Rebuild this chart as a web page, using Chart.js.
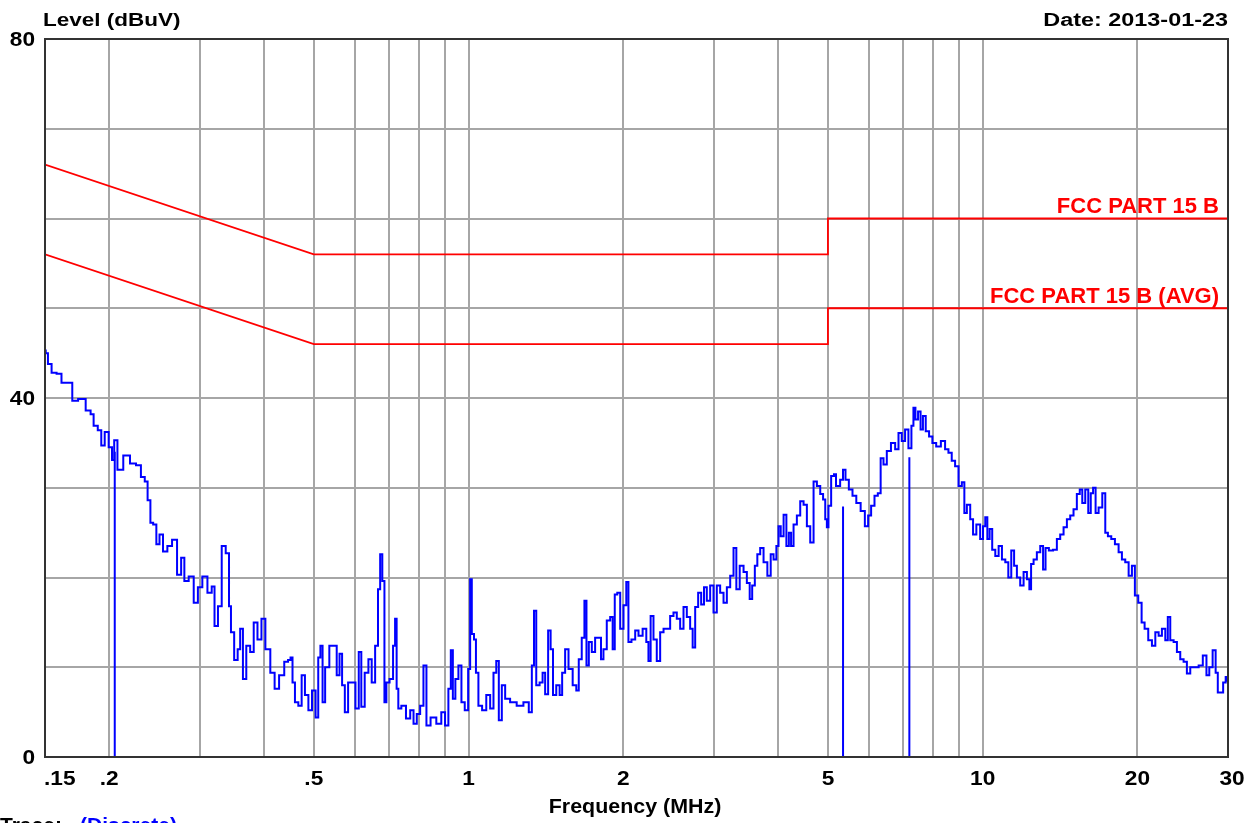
<!DOCTYPE html>
<html>
<head>
<meta charset="utf-8">
<script src="https://cdn.jsdelivr.net/npm/chart.js@4.4.1/dist/chart.umd.min.js"></script>
<style>
  html, body { margin: 0; padding: 0; background: #fff; }
  canvas { display: block; }
</style>
</head>
<body>
<canvas id="emiChart" width="1260" height="823"></canvas>
<script>
// Conducted emission scan (MHz / dBuV)
var traceFreq = [
  0.150, 0.151, 0.153, 0.156, 0.160, 0.163, 0.168, 0.171, 0.177, 0.183, 0.185, 0.188, 0.192, 0.194, 0.198,
  0.201, 0.204, 0.205, 0.210, 0.216, 0.223, 0.228, 0.233, 0.236, 0.239, 0.242, 0.245, 0.249, 0.252, 0.257,
  0.262, 0.268, 0.274, 0.278, 0.282, 0.289, 0.295, 0.300, 0.307, 0.314, 0.319, 0.322, 0.329, 0.333, 0.341,
  0.343, 0.347, 0.353, 0.358, 0.361, 0.367, 0.372, 0.380, 0.384, 0.393, 0.398, 0.407, 0.416, 0.423, 0.433,
  0.443, 0.448, 0.453, 0.456, 0.463, 0.470, 0.477, 0.484, 0.492, 0.500, 0.508, 0.512, 0.518, 0.522, 0.530,
  0.542, 0.550, 0.558, 0.564, 0.571, 0.578, 0.588, 0.597, 0.608, 0.615, 0.622, 0.634, 0.643, 0.653, 0.663,
  0.670, 0.676, 0.683, 0.689, 0.695, 0.709, 0.717, 0.722, 0.727, 0.733, 0.747, 0.764, 0.776, 0.787, 0.799,
  0.811, 0.823, 0.833, 0.854, 0.877, 0.893, 0.907, 0.920, 0.927, 0.937, 0.948, 0.963, 0.974, 0.992, 1.004,
  1.010, 1.019, 1.030, 1.037, 1.053, 1.072, 1.093, 1.110, 1.126, 1.138, 1.152, 1.169, 1.187, 1.222, 1.259,
  1.298, 1.321, 1.334, 1.347, 1.361, 1.388, 1.398, 1.420, 1.436, 1.452, 1.467, 1.495, 1.512, 1.529, 1.553,
  1.576, 1.612, 1.628, 1.648, 1.672, 1.688, 1.703, 1.724, 1.749, 1.776, 1.803, 1.816, 1.843, 1.871, 1.900,
  1.913, 1.936, 1.957, 1.987, 2.016, 2.037, 2.055, 2.093, 2.125, 2.156, 2.205, 2.228, 2.248, 2.272, 2.306,
  2.340, 2.377, 2.412, 2.448, 2.485, 2.522, 2.560, 2.599, 2.638, 2.677, 2.718, 2.738, 2.780, 2.812, 2.856,
  2.885, 2.928, 2.973, 3.017, 3.062, 3.109, 3.156, 3.203, 3.252, 3.300, 3.335, 3.401, 3.452, 3.503, 3.541,
  3.582, 3.626, 3.663, 3.720, 3.775, 3.849, 3.890, 3.948, 3.990, 4.025, 4.069, 4.130, 4.172, 4.223, 4.255,
  4.318, 4.383, 4.450, 4.516, 4.584, 4.654, 4.723, 4.794, 4.867, 4.918, 4.962, 4.990, 5.034, 5.111, 5.164,
  5.204, 5.241, 5.321, 5.376, 5.442, 5.540, 5.623, 5.732, 5.846, 5.952, 6.020, 6.114, 6.205, 6.298, 6.365,
  6.460, 6.557, 6.705, 6.808, 6.909, 7.010, 7.117, 7.223, 7.311, 7.354, 7.443, 7.530, 7.612, 7.691, 7.805,
  7.925, 8.040, 8.199, 8.385, 8.514, 8.641, 8.769, 8.905, 9.040, 9.176, 9.246, 9.384, 9.528, 9.626, 9.814,
  9.960, 10.07, 10.16, 10.26, 10.37, 10.50, 10.66, 10.82, 10.98, 11.15, 11.28, 11.45, 11.57, 11.74, 11.92,
  12.10, 12.28, 12.37, 12.47, 12.65, 12.84, 13.04, 13.17, 13.33, 13.57, 13.84, 14.04, 14.26, 14.47, 14.69,
  14.91, 15.13, 15.36, 15.53, 15.71, 15.95, 16.14, 16.31, 16.48, 16.68, 16.93, 17.24, 17.39, 17.65, 17.92,
  18.24, 18.52, 18.79, 19.08, 19.37, 19.65, 19.89, 20.25, 20.50, 20.80, 21.18, 21.50, 21.83, 22.15, 22.48,
  22.83, 22.99, 23.34, 23.69, 24.04, 24.41, 24.77, 25.14, 25.53, 26.11, 26.50, 27.10, 27.38, 27.80, 28.21,
  28.56, 28.76, 29.20, 29.51, 29.87, 30.00
];
var traceLevel = [
  45.3, 45.0, 43.8, 42.8, 42.7, 41.7, 41.7, 39.7, 39.9, 38.6, 38.2, 36.9, 36.4, 34.7, 36.2,
  34.5, 33.1, 35.3, 32.0, 33.6, 32.7, 32.5, 31.2, 30.7, 28.6, 26.1, 25.9, 23.7, 24.8, 22.9,
  23.5, 24.2, 20.3, 22.2, 19.6, 20.1, 17.2, 18.9, 20.1, 18.3, 19.0, 14.6, 16.8, 23.5, 22.7,
  16.8, 13.9, 10.8, 12.0, 14.3, 8.7, 12.4, 11.7, 15.0, 13.1, 15.4, 12.0, 9.4, 7.6, 9.1,
  10.6, 10.8, 11.1, 8.3, 6.1, 5.7, 9.1, 6.9, 5.2, 7.4, 4.4, 11.1, 12.4, 6.1, 10.0,
  12.4, 12.4, 9.1, 11.5, 8.0, 5.0, 8.3, 8.3, 5.4, 11.7, 5.6, 9.4, 10.9, 8.3, 12.4,
  18.7, 22.6, 19.6, 6.1, 8.3, 8.7, 12.4, 15.4, 7.6, 5.4, 5.7, 4.3, 5.2, 3.7, 4.8,
  5.7, 10.2, 3.5, 4.4, 3.7, 5.0, 3.5, 7.6, 11.9, 6.5, 8.7, 10.2, 6.1, 5.2, 9.8,
  19.8, 13.7, 13.1, 9.4, 5.7, 5.2, 6.9, 5.4, 9.4, 10.7, 4.1, 8.0, 6.5, 6.1, 5.7,
  6.1, 5.0, 10.2, 16.3, 8.0, 8.3, 9.4, 7.0, 14.1, 12.0, 6.9, 8.0, 6.9, 9.4, 12.0,
  9.8, 8.0, 7.4, 10.9, 13.3, 17.4, 10.2, 12.8, 11.7, 13.3, 13.3, 10.9, 12.0, 15.2, 15.6,
  12.0, 18.1, 18.3, 14.3, 16.9, 19.5, 12.8, 13.1, 14.1, 13.5, 14.3, 12.8, 10.7, 15.7, 13.1,
  10.7, 13.9, 14.3, 14.3, 15.7, 16.1, 15.4, 14.3, 16.7, 15.6, 14.3, 12.2, 16.7, 18.3, 17.0,
  18.9, 17.4, 19.1, 16.1, 19.1, 18.3, 17.2, 18.9, 20.2, 23.3, 18.7, 21.3, 20.6, 19.4, 17.6,
  19.1, 21.3, 22.6, 23.3, 21.7, 20.2, 22.6, 22.0, 23.5, 25.7, 24.6, 27.0, 23.5, 25.0, 23.5,
  25.9, 26.9, 28.5, 28.1, 25.7, 23.9, 30.7, 30.2, 29.3, 28.7, 26.5, 25.6, 28.0, 31.3, 31.5,
  30.2, 30.2, 30.9, 32.0, 30.9, 29.8, 29.1, 28.3, 27.4, 25.7, 26.9, 28.0, 29.1, 29.4, 33.3,
  32.6, 34.1, 35.0, 34.3, 36.1, 35.2, 36.5, 34.4, 36.9, 38.9, 37.6, 38.5, 36.5, 38.0, 36.3,
  35.7, 35.0, 34.6, 35.2, 34.3, 33.9, 33.0, 32.4, 30.2, 30.6, 27.2, 28.1, 26.5, 24.8, 25.9,
  24.3, 25.7, 26.7, 24.3, 25.4, 23.1, 22.4, 23.5, 22.0, 21.7, 20.0, 23.0, 21.3, 20.0, 19.1,
  20.6, 19.8, 18.7, 21.5, 22.0, 22.8, 23.5, 20.9, 23.3, 23.0, 23.1, 24.3, 24.8, 25.6, 26.5,
  26.9, 27.6, 29.3, 29.8, 28.3, 29.8, 27.2, 29.4, 30.0, 27.2, 27.8, 29.4, 25.0, 24.6, 24.3,
  23.7, 22.8, 22.0, 21.7, 20.2, 21.3, 18.0, 17.2, 15.0, 14.3, 13.0, 12.4, 13.9, 13.5, 14.3,
  13.0, 15.6, 13.0, 12.8, 11.7, 10.9, 10.6, 9.3, 10.0, 10.0, 10.2, 11.3, 9.1, 10.0, 11.9,
  9.4, 7.2, 7.2, 8.3, 8.9, 8.5
];

// FCC Part 15 class B limits
var limitFreq = [0.15, 0.5, 5, 5, 30];
var qpLimit = [66, 56, 56, 60, 60];
var avgLimit = [56, 46, 46, 50, 50];

// discrete readings
var markerFreq = [0.205, 5.35, 7.2];
var markerLevel = [34.0, 27.9, 33.4];

var gridFreq = [0.15, 0.2, 0.3, 0.4, 0.5, 0.6, 0.7, 0.8, 0.9, 1, 2, 3, 4, 5, 6, 7, 8, 9, 10, 20, 30];
var xTickValues = [0.15, 0.2, 0.5, 1, 2, 5, 10, 20, 30];
var xTickLabels = ['.15', '.2', '.5', '1', '2', '5', '10', '20', '30'];
var yTickValues = [0, 40, 80];

function toPoints(xs, ys) {
    return xs.map(function (f, i) { return { x: f, y: ys[i] }; });
}

var markerPoints = [];
markerFreq.forEach(function (f, i) {
    markerPoints.push({ x: f, y: 0 }, { x: f, y: markerLevel[i] }, { x: f, y: null });
});

function wideText(ctx, text, px, py, align, sx) {
    ctx.save();
    ctx.translate(px, py);
    ctx.scale(sx, 1);
    ctx.textAlign = align;
    ctx.fillText(text, 0, 0);
    ctx.restore();
}

var labelsPlugin = {
    id: 'emiLabels',
    beforeDraw: function (chart) {
        var ctx = chart.ctx;
        ctx.save();
        ctx.fillStyle = '#ffffff';
        ctx.fillRect(0, 0, chart.width, chart.height);
        ctx.restore();
    },
    afterDraw: function (chart) {
        var ctx = chart.ctx;
        var a = chart.chartArea;
        var xs = chart.scales.x, ys = chart.scales.y;
        ctx.save();

        // plot frame
        ctx.strokeStyle = '#333333';
        ctx.lineWidth = 2;
        ctx.strokeRect(a.left, a.top, a.right - a.left, a.bottom - a.top);

        ctx.fillStyle = '#000000';
        ctx.textBaseline = 'alphabetic';

        // header
        ctx.font = 'bold 18px "Liberation Sans", Arial, sans-serif';
        wideText(ctx, 'Level (dBuV)', 43, 26, 'left', 1.25);
        wideText(ctx, 'Date: 2013-01-23', 1228, 26, 'right', 1.3);

        // y ticks
        ctx.font = 'bold 21px "Liberation Sans", Arial, sans-serif';
        ctx.textBaseline = 'middle';
        yTickValues.forEach(function (v) {
            wideText(ctx, String(v), 35, ys.getPixelForValue(v) + 1, 'right', 1.08);
        });

        // x ticks
        ctx.textBaseline = 'alphabetic';
        xTickValues.forEach(function (v, i) {
            var px = xs.getPixelForValue(v);
            var align = 'center';
            if (i === 0) { align = 'left'; px -= 1; }
            if (i === xTickValues.length - 1) { px += 4; }
            wideText(ctx, xTickLabels[i], px, 785, align, 1.08);
        });

        ctx.font = 'bold 21px "Liberation Sans", Arial, sans-serif';
        wideText(ctx, 'Frequency (MHz)', 635, 813, 'center', 1.02);

        // trace caption
        wideText(ctx, 'Trace:', 0, 832, 'left', 1.0);
        ctx.fillStyle = '#0000ff';
        wideText(ctx, '(Discrete)', 80, 832, 'left', 1.0);

        // limit line names
        ctx.fillStyle = '#ff0000';
        ctx.font = 'bold 22px "Liberation Sans", Arial, sans-serif';
        wideText(ctx, 'FCC PART 15 B', 1219, ys.getPixelForValue(60) - 6, 'right', 1.0);
        wideText(ctx, 'FCC PART 15 B (AVG)', 1219, ys.getPixelForValue(50) - 5, 'right', 1.0);

        ctx.restore();
    }
};

var ctx = document.getElementById('emiChart').getContext('2d');
var emiChart = new Chart(ctx, {
    type: 'line',
    data: {
        datasets: [
            {
                label: 'FCC PART 15 B',
                data: toPoints(limitFreq, qpLimit),
                borderColor: '#ff0000',
                borderWidth: 1.8,
                pointRadius: 0
            },
            {
                label: 'FCC PART 15 B (AVG)',
                data: toPoints(limitFreq, avgLimit),
                borderColor: '#ff0000',
                borderWidth: 1.8,
                pointRadius: 0
            },
            {
                label: 'Discrete',
                data: markerPoints,
                borderColor: '#0000ff',
                borderWidth: 2,
                pointRadius: 0,
                spanGaps: false
            },
            {
                label: 'Trace',
                data: toPoints(traceFreq, traceLevel),
                borderColor: '#0000ff',
                borderWidth: 2,
                pointRadius: 0,
                stepped: 'middle'
            }
        ]
    },
    options: {
        responsive: false,
        animation: false,
        layout: {
            padding: { left: 45, right: 32, top: 39, bottom: 66 }
        },
        scales: {
            x: {
                type: 'logarithmic',
                min: 0.15,
                max: 30,
                afterBuildTicks: function (scale) {
                    scale.ticks = gridFreq.map(function (v) { return { value: v }; });
                },
                ticks: { display: false },
                grid: { color: '#a6a6a6', lineWidth: 2, drawTicks: false },
                border: { display: false }
            },
            y: {
                min: 0,
                max: 80,
                ticks: { display: false, stepSize: 10 },
                grid: { color: '#a6a6a6', lineWidth: 2, drawTicks: false },
                border: { display: false }
            }
        },
        plugins: {
            legend: { display: false },
            tooltip: { enabled: false }
        }
    },
    plugins: [labelsPlugin]
});
</script>
</body>
</html>
